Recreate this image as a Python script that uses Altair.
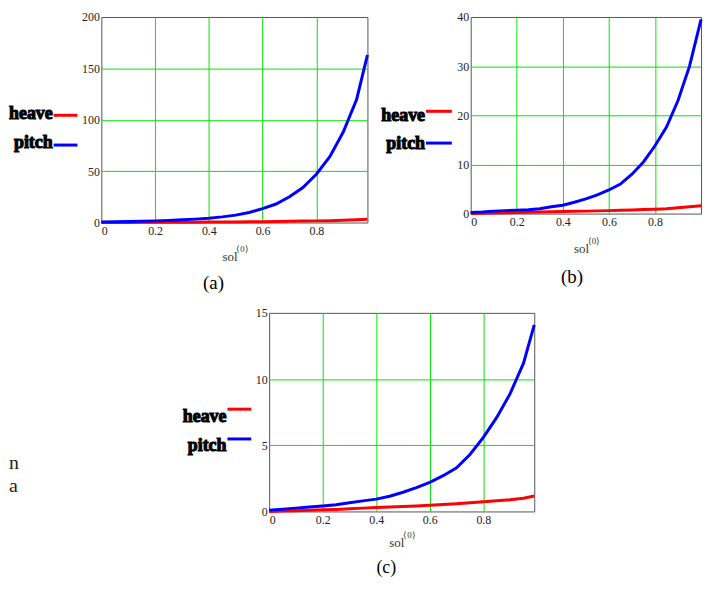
import altair as alt
import pandas as pd

# ---------------- data ----------------
x_a = [0.0, 0.05, 0.10, 0.15, 0.20, 0.25, 0.30, 0.35, 0.40, 0.45, 0.50,
       0.55, 0.60, 0.65, 0.70, 0.75, 0.80, 0.85, 0.90, 0.95, 0.99]
heave_a = [0, 0.05, 0.1, 0.15, 0.2, 0.25, 0.3, 0.35, 0.4, 0.5, 0.6,
           0.7, 0.8, 1.0, 1.2, 1.4, 1.6, 1.8, 2.1, 2.6, 3.2]
pitch_a = [0.5, 0.7, 1.0, 1.3, 1.6, 2.0, 2.6, 3.3, 4.2, 5.5, 7.2,
           9.7, 13.5, 18, 25, 34, 47, 64, 88, 120, 163]

x_b = [0.0, 0.05, 0.10, 0.15, 0.20, 0.25, 0.30, 0.35, 0.40, 0.45, 0.50,
       0.55, 0.60, 0.65, 0.70, 0.75, 0.80, 0.85, 0.90, 0.95, 1.0]
heave_b = [0, 0.05, 0.1, 0.15, 0.2, 0.25, 0.3, 0.35, 0.4, 0.45, 0.5,
           0.55, 0.6, 0.67, 0.75, 0.82, 0.9, 1.0, 1.2, 1.4, 1.6]
pitch_b = [0.2, 0.3, 0.5, 0.6, 0.7, 0.8, 1.0, 1.4, 1.7, 2.3, 3.0,
           3.8, 4.8, 6.0, 8.0, 10.5, 13.8, 17.6, 23, 30, 39.5]

x_c = [0.0, 0.05, 0.10, 0.15, 0.20, 0.25, 0.30, 0.35, 0.40, 0.45, 0.50,
       0.55, 0.60, 0.65, 0.70, 0.75, 0.80, 0.85, 0.90, 0.95, 0.99]
heave_c = [0, 0.03, 0.06, 0.09, 0.12, 0.15, 0.2, 0.25, 0.3, 0.33, 0.37,
           0.41, 0.46, 0.52, 0.58, 0.65, 0.73, 0.8, 0.88, 1.0, 1.17]
pitch_c = [0.1, 0.17, 0.25, 0.33, 0.41, 0.5, 0.65, 0.8, 0.93, 1.15, 1.45,
           1.8, 2.2, 2.7, 3.3, 4.3, 5.6, 7.1, 8.9, 11.2, 14.1]

x_ticks = [0, 0.2, 0.4, 0.6, 0.8]
y_ticks_a = [0, 50, 100, 150, 200]
y_ticks_b = [0, 10, 20, 30, 40]
y_ticks_c = [0, 5, 10, 15]

series_names = ["heave", "pitch"]
series_colors = ["#ff0000", "#0000ff"]
x_title = "sol"
x_title_sup = "\u27e80\u27e9"
captions = ["(a)", "(b)", "(c)"]
stray_text = ["n", "a"]

SERIF = "Liberation Serif"
GRID = "#00e600"


def one_text(t, x, y, size, align="left", baseline="alphabetic", color="black",
             bold=False, stroke=None):
    kw = dict(font=SERIF, fontSize=size, align=align, baseline=baseline, color=color)
    if bold:
        kw["fontWeight"] = "bold"
    if stroke:
        kw["stroke"] = stroke
        kw["strokeWidth"] = 1.1
    return alt.Chart(pd.DataFrame({"t": [t]})).mark_text(**kw).encode(
        text="t:N", x=alt.value(x), y=alt.value(y))


def panel(xs, heave, pitch, xmax, ymax, yticks, w, h, leg, sol_x, sol_dy, cap_x, cap_dy,
          caption, cap_size=19):
    df = pd.DataFrame({
        "x": list(xs) + list(xs),
        "v": list(heave) + list(pitch),
        "s": [series_names[0]] * len(xs) + [series_names[1]] * len(xs),
    })
    lines = alt.Chart(df).mark_line(strokeWidth=3, clip=False).encode(
        x=alt.X("x:Q", scale=alt.Scale(domain=[0, xmax], nice=False, zero=False),
                axis=alt.Axis(values=x_ticks, format=".1~f", title=None, labelFlush=True,
                              labelPadding=3,
                              gridOpacity={"condition": {"test": "datum.value == 0", "value": 0},
                                           "value": 1})),
        y=alt.Y("v:Q", scale=alt.Scale(domain=[0, ymax], nice=False),
                axis=alt.Axis(values=yticks, title=None, labelPadding=2,
                              gridOpacity={"condition": {"test": f"datum.value == 0 || datum.value >= {ymax}",
                                                         "value": 0},
                                           "value": 1})),
        color=alt.Color("s:N", scale=alt.Scale(domain=series_names, range=series_colors),
                        legend=None),
    )
    rx1, rx2, ry_h, ry_p, ty_h, ty_p = leg
    layers = [lines]
    for name, col, ry, ty in [(series_names[0], series_colors[0], ry_h, ty_h),
                              (series_names[1], series_colors[1], ry_p, ty_p)]:
        layers.append(
            alt.Chart(pd.DataFrame({"s": [name]})).mark_rule(color=col, strokeWidth=3).encode(
                x=alt.value(rx1), x2=alt.value(rx2), y=alt.value(ry)))
        layers.append(one_text(name, rx1 - 1, ty, 18, align="right", bold=True, stroke="black"))
    layers.append(one_text(x_title, sol_x, h + sol_dy, 13, color="#333"))
    layers.append(one_text(x_title_sup, sol_x + 14, h + sol_dy - 9, 9, color="#333"))
    layers.append(one_text(caption, cap_x, h + cap_dy, cap_size, align="center", baseline="middle"))
    return alt.layer(*layers).properties(width=w, height=h)


pa = panel(x_a, heave_a, pitch_a, 0.99, 200, y_ticks_a, 268, 207,
           (-48, -24, 99, 129, 103, 132), 122, 39, 113, 61, captions[0])
pb = panel(x_b, heave_b, pitch_b, 1.0, 40, y_ticks_b, 232, 198,
           (-45, -19, 95, 127, 105, 133), 104, 40, 102, 64, captions[1])
pc = panel(x_c, heave_c, pitch_c, 0.99, 15, y_ticks_c, 267, 200,
           (-42, -18, 97, 127, 110, 139), 121, 36, 118, 57, captions[2], cap_size=18)

# left-hand block of row 2: the clipped body-text letters
spacer = alt.layer(
    one_text(stray_text[0], -93, 157, 20, color="#222"),
    one_text(stray_text[1], -93, 180, 20, color="#222"),
).properties(width=75, height=10, view=alt.ViewBackground(stroke="transparent"))

chart = alt.vconcat(
    alt.hconcat(pa, pb, spacing=6),
    alt.hconcat(spacer, pc, spacing=5),
    spacing=12,
).properties(
    padding={"left": 0, "top": 0, "right": 0, "bottom": 0}
).configure_view(
    stroke="#555", strokeWidth=1
).configure_axis(
    labelFont=SERIF, labelFontSize=12, labelColor="#222",
    gridColor=GRID, gridWidth=1, domain=False, ticks=False,
)

chart.save("out.html", embed_options={"renderer": "svg", "actions": False})
